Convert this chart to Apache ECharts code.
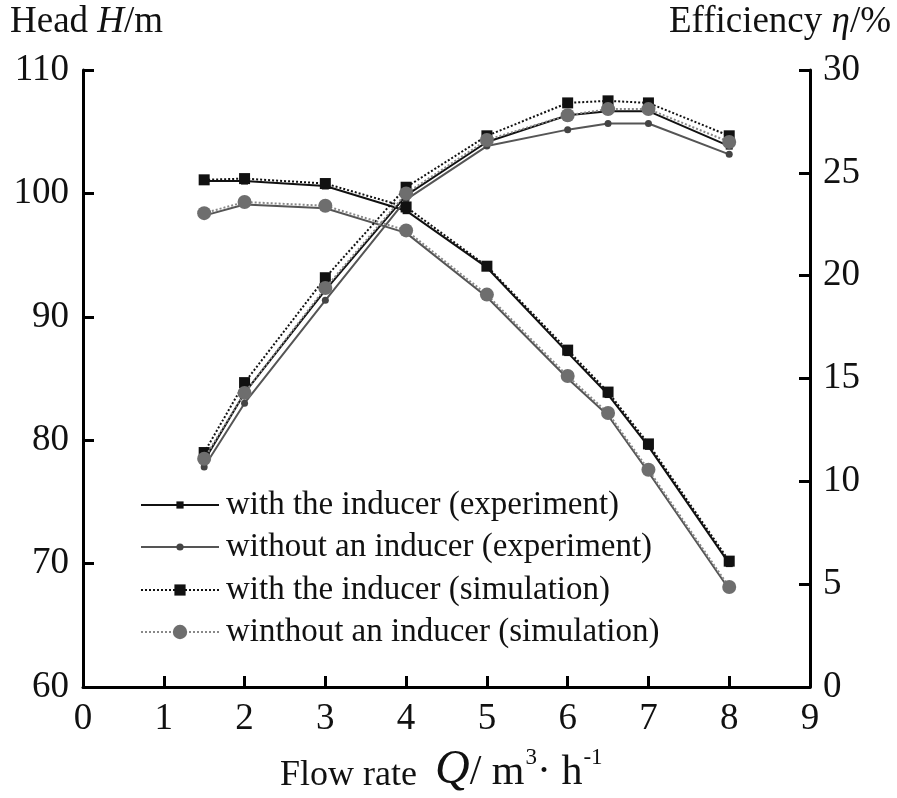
<!DOCTYPE html>
<html>
<head>
<meta charset="utf-8">
<script src="https://cdn.jsdelivr.net/npm/echarts@6/dist/echarts.min.js"></script>
<style>html,body{margin:0;padding:0;background:#fff;overflow:hidden;}#c{width:897px;height:798px;}</style>
</head>
<body>
<div id="c"></div>
<script>
const flowRate = [1.5, 2, 3, 4, 5, 6, 6.5, 7, 8];
const seriesNames = [
  'with the inducer (experiment)',
  'without an inducer (experiment)',
  'with the inducer (simulation)',
  'winthout an inducer (simulation)'
];
const headWithExp = [101.0, 101.0, 100.6, 98.6, 94.0, 87.1, 83.7, 79.5, 70.0];
const headWithoutExp = [98.2, 99.1, 98.8, 96.8, 91.6, 85.0, 82.0, 77.4, 67.9];
const headWithSim = [101.1, 101.2, 100.8, 98.9, 94.1, 87.3, 83.9, 79.7, 70.2];
const headWithoutSim = [98.4, 99.3, 99.0, 97.0, 91.8, 85.2, 82.2, 77.6, 68.1];
const effWithExp = [11.0, 14.3, 19.3, 23.9, 26.5, 27.8, 28.0, 28.0, 26.3];
const effWithoutExp = [10.7, 13.8, 18.8, 23.7, 26.3, 27.1, 27.4, 27.4, 25.9];
const effWithSim = [11.4, 14.8, 19.9, 24.3, 26.8, 28.4, 28.5, 28.4, 26.8];
const effWithoutSim = [11.1, 14.3, 19.4, 24.0, 26.6, 27.8, 28.1, 28.1, 26.5];
const xTicks = [0, 9, 1];      // min, max, interval
const headTicks = [60, 110, 10];
const effTicks = [0, 30, 5];

const FONT = '"Liberation Serif", "Times New Roman", serif';
const pair = (xs, ys) => xs.map((x, i) => [x, ys[i]]);

const styles = [
  {color: '#111', type: 'solid', width: 2, symbol: 'rect', size: 7, legendH: 9},
  {color: '#555', type: 'solid', width: 2, symbol: 'circle', size: 7, legendH: 9},
  {color: '#111', type: 'dotted', width: 2, symbol: 'rect', size: 11, legendH: 14},
  {color: '#888', type: 'dotted', width: 2, symbol: 'circle', size: 14, legendH: 18}
];
const markerColors = ['#111', '#444', '#111', '#6e6e6e'];
const heads = [headWithExp, headWithoutExp, headWithSim, headWithoutSim];
const effs = [effWithExp, effWithoutExp, effWithSim, effWithoutSim];

const series = [];
const drawOrder = [3, 1, 2, 0];
for (const i of drawOrder) {
  const s = styles[i];
  [[heads[i], 0], [effs[i], 1]].forEach(([vals, ax]) => {
    series.push({
      name: seriesNames[i],
      type: 'line',
      yAxisIndex: ax,
      data: pair(flowRate, vals),
      symbol: s.symbol,
      symbolSize: s.size,
      showAllSymbol: true,
      lineStyle: {color: s.color, type: s.type, width: s.width},
      itemStyle: {color: markerColors[i], borderWidth: 0},
      z: 2 + i,
      animation: false
    });
  });
}

const legendRowCenters = [505, 547, 590, 632];
const legends = seriesNames.map((n, i) => ({
  data: [n],
  orient: 'vertical',
  left: 140,
  top: legendRowCenters[i] - 20,
  height: 40,
  padding: 0,
  itemWidth: 78,
  itemHeight: styles[i].legendH,
  textStyle: {color: '#111', fontFamily: FONT, fontSize: 33, lineHeight: 40, padding: [0, 0, 0, 2]}
}));

const axisLine = {show: true, onZero: false, lineStyle: {color: '#000', width: 3}};
const axisTick = {show: true, inside: true, length: 11, lineStyle: {color: '#000', width: 3}};
const axisLabelBase = {color: '#111', fontFamily: FONT, fontSize: 37};

const chart = echarts.init(document.getElementById('c'), null, {renderer: 'canvas', width: 897, height: 798});
chart.setOption({
  backgroundColor: '#fff',
  animation: false,
  grid: {left: 83, width: 727, top: 70, height: 617, containLabel: false},
  legend: legends,
  xAxis: {
    type: 'value',
    min: xTicks[0], max: xTicks[1], interval: xTicks[2],
    axisLine: axisLine,
    axisTick: axisTick,
    splitLine: {show: false},
    axisLabel: Object.assign({margin: 14}, axisLabelBase)
  },
  yAxis: [
    {
      type: 'value',
      position: 'left',
      min: headTicks[0], max: headTicks[1], interval: headTicks[2],
      axisLine: axisLine,
      axisTick: axisTick,
      splitLine: {show: false},
      axisLabel: Object.assign({margin: 14}, axisLabelBase)
    },
    {
      type: 'value',
      position: 'right',
      min: effTicks[0], max: effTicks[1], interval: effTicks[2],
      axisLine: axisLine,
      axisTick: axisTick,
      splitLine: {show: false},
      axisLabel: Object.assign({margin: 13}, axisLabelBase)
    }
  ],
  graphic: [
    {
      type: 'text', left: 10, top: 4,
      style: {
        text: '{n|Head }{i|H}{n|/m}',
        rich: {
          n: {fontFamily: FONT, fontSize: 37, fill: '#111'},
          i: {fontFamily: FONT, fontSize: 37, fontStyle: 'italic', fill: '#111'}
        }
      }
    },
    {
      type: 'text', right: 6, top: 4,
      style: {
        text: '{n|Efficiency }{i|η}{n|/%}',
        rich: {
          n: {fontFamily: FONT, fontSize: 37, fill: '#111'},
          i: {fontFamily: FONT, fontSize: 37, fontStyle: 'italic', fill: '#111'}
        }
      }
    },
    {
      type: 'text', left: 280, top: 746,
      style: {
        text: '{n|Flow rate  }{q|Q}{u|/ m}{s|3}{u|· h}{s|-1}',
        rich: {
          n: {fontFamily: FONT, fontSize: 36, fill: '#111', verticalAlign: 'bottom', lineHeight: 48},
          q: {fontFamily: FONT, fontSize: 48, fontStyle: 'italic', fill: '#111', verticalAlign: 'bottom', lineHeight: 48},
          u: {fontFamily: FONT, fontSize: 42, fill: '#111', verticalAlign: 'bottom', lineHeight: 48},
          s: {fontFamily: FONT, fontSize: 23, fill: '#111', verticalAlign: 'top', lineHeight: 48, padding: [0, 0, 22, 1]}
        }
      }
    }
  ],
  series: series
});
</script>
</body>
</html>
